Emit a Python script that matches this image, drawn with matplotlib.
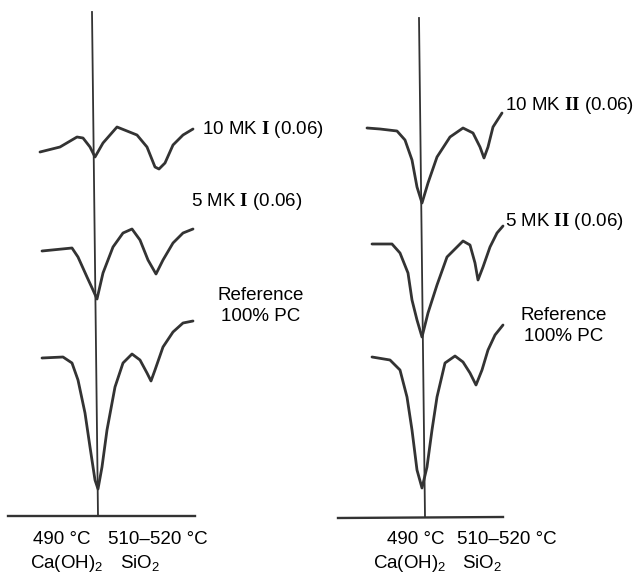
import matplotlib
matplotlib.use('Agg')
import matplotlib.pyplot as plt

plt.rcParams['font.family'] = ['Liberation Sans', 'DejaVu Sans']
plt.rcParams['mathtext.fontset'] = 'custom'
plt.rcParams['mathtext.rm'] = 'Liberation Serif'
plt.rcParams['mathtext.bf'] = 'Liberation Serif:bold'
plt.rcParams['mathtext.sf'] = 'Liberation Sans'
plt.rcParams['mathtext.default'] = 'sf'

# traced DTA curves (page coordinates, y grows downward)
mk1_10_x = [40, 60, 77, 83, 90, 95, 103, 117, 127, 137, 147, 155, 159, 165, 173, 183, 193]
mk1_10_y = [152, 147, 137, 138, 147, 157, 143, 127, 131, 135, 147, 167, 169, 163, 145, 135, 129]

mk1_5_x = [42, 72, 78, 87, 93, 97, 103, 113, 123, 132, 140, 148, 156, 163, 173, 183, 193]
mk1_5_y = [251, 248, 257, 277, 290, 299, 273, 247, 233, 229, 240, 260, 274, 260, 243, 233, 229]

ref1_x = [42, 63, 72, 78, 85, 90, 95, 98, 102, 107, 115, 123, 132, 140, 147, 151, 155, 163, 173, 183, 193]
ref1_y = [358, 357, 363, 380, 413, 447, 480, 489, 467, 430, 387, 363, 354, 360, 373, 381, 370, 347, 332, 323, 321]

mk2_10_x = [367, 380, 397, 405, 412, 417, 422, 428, 437, 450, 463, 473, 480, 484, 488, 493, 502]
mk2_10_y = [128, 129, 131, 140, 160, 187, 203, 183, 157, 137, 128, 133, 147, 158, 147, 127, 113]

mk2_5_x = [372, 392, 400, 408, 412, 417, 422, 428, 437, 447, 463, 470, 475, 478, 483, 490, 497, 503]
mk2_5_y = [244, 244, 253, 273, 300, 320, 337, 313, 285, 257, 241, 245, 263, 280, 267, 247, 233, 226]

ref2_x = [372, 390, 400, 407, 412, 417, 422, 427, 432, 437, 445, 455, 463, 470, 476, 482, 488, 495, 503]
ref2_y = [357, 360, 370, 397, 430, 470, 488, 467, 430, 397, 363, 356, 362, 373, 385, 370, 350, 335, 325]

curve_labels = [
    (202, 129, r'10 MK $\mathbf{I}$ (0.06)'),
    (191, 202, r'5 MK $\mathbf{I}$ (0.06)'),
    (505, 106, r'10 MK $\mathbf{II}$ (0.06)'),
    (505, 222, r'5 MK $\mathbf{II}$ (0.06)'),
]
ref_labels = [(261, 306), (564, 326)]
# x of: "490 °C" left, "510–520 °C" left, "Ca(OH)2" left, "SiO2" left
bottom_labels = [(33, 108, 30, 120), (387, 457, 373, 462)]

fig = plt.figure(figsize=(6.4, 5.75), dpi=100)
ax = fig.add_axes([0, 0, 1, 1])
ax.set_xlim(0, 640)
ax.set_ylim(575, 0)
ax.axis('off')

line_col = '#333333'
# axes of each panel
ax.plot([92, 98], [12, 516], color=line_col, lw=1.3)
ax.plot([8, 195], [516, 516], color=line_col, lw=1.7)
ax.plot([419, 425], [18, 517], color=line_col, lw=1.3)
ax.plot([338, 503], [518, 517], color=line_col, lw=1.7)

for xs, ys in [(mk1_10_x, mk1_10_y), (mk1_5_x, mk1_5_y), (ref1_x, ref1_y),
               (mk2_10_x, mk2_10_y), (mk2_5_x, mk2_5_y), (ref2_x, ref2_y)]:
    ax.plot(xs, ys, color=line_col, lw=2.0, solid_joinstyle='round',
            solid_capstyle='round')

fs = 13.5
for x, y, t in curve_labels:
    ax.text(x, y, t, fontsize=fs, ha='left', va='center')

for x, y in ref_labels:
    ax.text(x, y, 'Reference\n100% PC', fontsize=fs, ha='center', va='center',
            linespacing=1.25)

for xa, xb, xc, xd in bottom_labels:
    ax.text(xa, 540, '490 °C', fontsize=fs, ha='left', va='center')
    ax.text(xb, 540, '510–520 °C', fontsize=fs, ha='left', va='center')
    ax.text(xc, 563, r'Ca(OH)$_2$', fontsize=fs, ha='left', va='center')
    ax.text(xd, 563, r'SiO$_2$', fontsize=fs, ha='left', va='center')

plt.savefig('out.png', dpi=100)
